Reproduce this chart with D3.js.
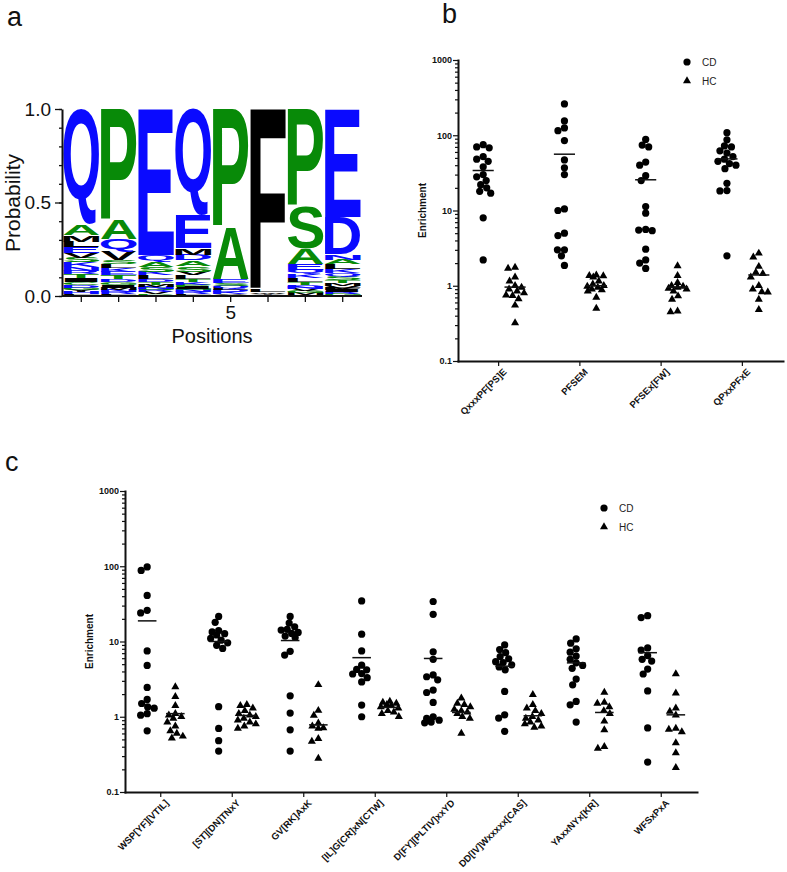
<!DOCTYPE html>
<html><head><meta charset="utf-8">
<script src="https://cdn.jsdelivr.net/npm/d3@7"></script>
<style>body{margin:0;background:#fff}svg{display:block}</style>
</head><body>
<svg id="chart" width="787" height="872"></svg>
<script>
// ================= DATA =================
// Panel a : sequence logo (letter, probability) per position
const logoPositions = [1, 2, 3, 4, 5, 6, 7, 8];
const logoTickLabels = ["", "", "", "", "5", "", "", ""];
const logoYTicks = [0, 0.5, 1.0];
const logoYTickLabels = ["0.0", "0.5", "1.0"];
const pos1 = [["Q",.62],["A",.055],["M",.035],["E",.03],["L",.03],["K",.025],["S",.025],["V",.025],["I",.02],["T",.02],["R",.02],["N",.02],["G",.015],["D",.015],["C",.015],["H",.01],["Y",.01],["W",.005],["F",.005]];
const pos2 = [["P",.595],["A",.10],["Q",.07],["V",.045],["T",.02],["E",.02],["K",.02],["L",.02],["S",.02],["M",.015],["I",.015],["G",.015],["D",.015],["R",.01],["N",.01],["H",.005],["F",.005]];
const pos3 = [["E",.78],["Q",.035],["A",.03],["S",.025],["L",.02],["K",.02],["T",.015],["D",.015],["V",.01],["R",.01],["G",.01],["N",.01],["M",.01],["I",.005],["P",.005]];
const pos4 = [["Q",.57],["E",.175],["M",.035],["S",.03],["A",.03],["D",.03],["L",.02],["V",.02],["K",.015],["T",.015],["R",.01],["N",.01],["G",.01],["I",.01],["P",.01],["H",.005],["F",.005]];
const pos5 = [["P",.63],["A",.28],["E",.02],["Q",.015],["S",.015],["K",.01],["D",.01],["L",.01],["T",.005],["V",.005]];
const pos6 = [["F",.97],["L",.01],["W",.008],["Y",.007],["V",.005]];
const pos7 = [["P",.52],["S",.225],["A",.085],["E",.03],["Q",.025],["L",.02],["K",.02],["D",.015],["T",.015],["M",.01],["G",.01],["V",.01],["N",.01],["R",.005]];
const pos8 = [["E",.575],["D",.2],["N",.03],["L",.025],["A",.025],["S",.02],["Q",.02],["K",.02],["V",.015],["M",.015],["T",.015],["G",.01],["R",.01],["I",.01],["F",.01]];
const logoColumns = [pos1, pos2, pos3, pos4, pos5, pos6, pos7, pos8];
const blueLetters = "QEDNKRH";
const greenLetters = "PASTGC";

// Panels b & c : log axis
const logTickValues = [0.1, 1, 10, 100, 1000];
const logTickLabels = ["0.1", "1", "10", "100", "1000"];
const seriesNames = ["CD", "HC"];

// Panel b
const motifsB = ["QxxxPF[PS]E", "PFSEM", "PFSEx[FW]", "QPxxPFxE"];
const cdB1 = [75,70,68,52,48,45,38,30,28,25,22,20,18,17,8,2.2];
const cdB2 = [261,155,125,115,85,47,37,30,10.5,10,5,4.65,3,3,2.5,1.86];
const cdB3 = [88,74,70,44,40,29,25,11.3,9.2,5.6,5.5,5.4,3.06,2.2,2,1.7];
const cdB4 = [108,87,72,70,62,58,52,48,45,42,40,36,23,18.4,18.2,2.5];
const hcB1 = [1.75,1.7,1.3,1.15,1.0,0.95,0.9,0.85,0.8,0.75,0.74,0.67,0.55,0.32];
const hcB2 = [1.38,1.36,1.35,1.3,1.15,1.05,1.0,0.98,0.95,0.9,0.88,0.85,0.7,0.5];
const hcB3 = [1.84,1.36,1.1,1.0,0.98,0.95,0.92,0.9,0.85,0.73,0.66,0.46,0.45];
const hcB4 = [2.7,2.4,1.8,1.5,1.45,1.3,1.0,0.9,0.83,0.82,0.66,0.48];
const meanCdB = [34, 56, 25.6, 48.5];
const meanHcB = [0.96, 1.0, 0.96, 1.39];

// Panel c
const motifsC = ["WSP[YF][VTIL]", "[ST][DN]TNxY", "GV[RK]AxK", "[IL]G[CR]xN[CTW]", "D[FY][PLTIV]xxYD", "DD[IV]Wxxxxx[CAS]", "YAxxNYx[KR]", "WFSxPxA"];
const cdC1 = [98,88,41,26,24,7.5,4.8,2.45,1.7,1.5,1.35,1.3,1.1,1.05,0.65];
const cdC2 = [21.5,18,14,13.4,12.7,12.2,11,10.4,9.6,8.9,8.1,1.36,0.7,0.48,0.35];
const cdC3 = [21.5,17.6,15.7,14.5,14.2,13.2,12.8,11.8,11.3,7.4,6.6,1.9,1.12,0.67,0.35];
const cdC4 = [34.6,12.5,7.5,4.85,4.25,4.2,3.75,3.7,3.3,2.9,1.43,1.0];
const cdC5 = [34,23,7.3,5.8,3.6,3.4,3.1,2.26,2.1,1.55,1.0,0.95,0.9,0.85,0.83];
const cdC6 = [9,7.8,7.1,6.3,5.9,5.4,5.25,4.9,4.6,4.2,2.17,1.06,0.96,0.64];
const cdC7 = [10.8,9.5,8,7.2,6.4,5.8,5.2,4.8,4.4,3.17,2.66,1.6,1.44,0.85];
const cdC8 = [22,20.8,8.2,7.7,6.5,5.8,5.5,4.3,3.7,2.2,0.71,0.25];
const hcC1 = [2.5,1.85,1.4,1.1,1.05,1.0,0.95,0.85,0.75,0.65,0.6,0.55,0.52];
const hcC2 = [1.45,1.4,1.3,1.2,1.1,1.05,1.0,0.95,0.9,0.85,0.8,0.75,0.7];
const hcC3 = [2.66,1.21,1.04,0.82,0.75,0.71,0.7,0.51,0.47,0.28];
const hcC4 = [1.6,1.55,1.5,1.45,1.4,1.35,1.3,1.2,1.15,1.1,1.0];
const hcC5 = [1.77,1.5,1.45,1.35,1.25,1.2,1.15,1.1,1.0,0.95,0.6];
const hcC6 = [1.96,1.45,1.3,1.2,1.1,1.0,0.95,0.9,0.85,0.8,0.75,0.72];
const hcC7 = [2.1,1.55,1.5,1.35,1.2,1.1,0.87,0.67,0.4,0.38];
const hcC8 = [3.7,2.06,1.3,1.18,1.05,0.7,0.68,0.63,0.45,0.33,0.21];
const meanCdC = [18.8, 10, 10.3, 6.1, 5.95, 4.7, 5.2, 7.1];
const meanHcC = [1.1, 1.04, 0.78, 1.33, 1.14, 1.03, 1.14, 1.06];

// ================= DRAWING =================
const FONT = "'Liberation Sans', Arial, Helvetica, sans-serif";
const svg = d3.select("#chart").style("font-family", FONT);

// panel letters
[["a", 7, 26], ["b", 442, 23], ["c", 5, 471]].forEach(([t, x, y]) =>
  svg.append("text").attr("x", x).attr("y", y).attr("font-size", 27).attr("fill", "#111").text(t));

// ---------- Panel a ----------
(function () {
  const g = svg.append("g");
  const y = d3.scaleLinear().domain([0, 1]).range([296, 109]);
  const x = d3.scaleBand().domain(logoPositions).range([63, 361]).paddingInner(0.04).paddingOuter(0.01);
  const colorOf = ch => blueLetters.includes(ch) ? "#0a0aff" : greenLetters.includes(ch) ? "#088a08" : "#000";
  const LOGOFONT = "bold 100px 'Liberation Sans', Arial, sans-serif";
  const ctx = document.createElement("canvas").getContext("2d");
  ctx.font = LOGOFONT;
  const cache = {};
  const ink = ch => cache[ch] || (cache[ch] = (() => {
    const m = ctx.measureText(ch);
    return { l: m.actualBoundingBoxLeft, r: m.actualBoundingBoxRight, a: m.actualBoundingBoxAscent, d: m.actualBoundingBoxDescent };
  })());
  logoColumns.forEach((col, i) => {
    const sorted = col.slice().sort((p, q) => p[1] - q[1]);
    let cum = 0;
    const bx = x(logoPositions[i]), bw = x.bandwidth();
    sorted.forEach(([ch, p]) => {
      const yb = y(cum), yt = y(cum + p);
      cum += p;
      const h = yb - yt;
      if (h <= 0.05) return;
      const m = ink(ch);
      const sx = bw / (m.l + m.r), sy = h / (m.a + m.d);
      g.append("text")
        .attr("font-family", "'Liberation Sans', Arial, sans-serif")
        .attr("font-weight", "bold").attr("font-size", 100)
        .attr("fill", colorOf(ch))
        .attr("transform", `translate(${bx},${yt}) scale(${sx},${sy}) translate(${m.l},${m.a})`)
        .text(ch);
    });
  });
  // y axis
  const yAxis = d3.axisLeft(y).tickValues(logoYTicks).tickFormat((d, i) => logoYTickLabels[i]).tickSize(7).tickSizeOuter(0).tickPadding(4);
  const ya = g.append("g").attr("transform", "translate(62,0)").call(yAxis);
  const minorA = d3.range(0, 1.0001, 0.1);
  g.append("g").attr("transform", "translate(62,0)").call(d3.axisLeft(y).tickValues(minorA).tickFormat("").tickSize(3).tickSizeOuter(0))
    .call(s => s.select(".domain").remove());
  const xa = g.append("g").attr("transform", "translate(0,296)")
    .call(d3.axisBottom(x).tickFormat((d, i) => logoTickLabels[i]).tickSize(6).tickSizeOuter(0).tickPadding(4));
  xa.select(".domain").attr("d", "M62,0H362");
  [ya, xa].forEach(a => {
    a.select(".domain").attr("stroke-width", 2).attr("stroke", "#111");
    a.selectAll("text").attr("font-size", 19).attr("font-family", FONT).attr("fill", "#111");
  });
  g.selectAll(".tick line").attr("stroke", "#111").attr("stroke-width", 1.3);
  g.append("text").attr("transform", "translate(20,203) rotate(-90)").attr("text-anchor", "middle")
    .attr("font-size", 21).attr("fill", "#111").text("Probability");
  g.append("text").attr("x", 212).attr("y", 343).attr("text-anchor", "middle")
    .attr("font-size", 20).attr("fill", "#111").text("Positions");
})();

// ---------- beeswarm helper ----------
function swarm(vals, y, minD, maxOff) {
  const pts = vals.map(v => ({ v, py: y(v), dx: 0 }));
  const placed = [];
  const cands = [0];
  for (let s = 0.5; s <= maxOff; s += 0.5) cands.push(-s, s);
  pts.slice().sort((a, b) => a.py - b.py).forEach(p => {
    let best = 0, bestScore = -Infinity;
    for (const c of cands) {
      let md = Infinity;
      for (const q of placed) md = Math.min(md, Math.hypot(c - q.dx, p.py - q.py));
      if (md >= minD) { best = c; bestScore = Infinity; break; }
      if (md > bestScore + 0.3) { bestScore = md; best = c; }
    }
    p.dx = best;
    placed.push(p);
  });
  return pts;
}

// ---------- log panels ----------
function logPanel(cfg) {
  const g = svg.append("g");
  const y = d3.scaleLog().domain([0.1, 1000]).range([cfg.yBottom, cfg.yTop]);
  const x = d3.scaleBand().domain(cfg.cats).range([cfg.xLeft, cfg.xRight]);
  const bw = x.bandwidth();
  // minor ticks
  const minor = [];
  logTickValues.slice(0, -1).forEach(d => { for (let k = 2; k < 10; k++) minor.push(d * k); });
  g.append("g").attr("transform", `translate(${cfg.xLeft},0)`)
    .call(d3.axisLeft(y).tickValues(minor).tickFormat("").tickSize(3).tickSizeOuter(0))
    .call(s => s.select(".domain").remove());
  const ya = g.append("g").attr("transform", `translate(${cfg.xLeft},0)`)
    .call(d3.axisLeft(y).tickValues(logTickValues).tickFormat((d, i) => logTickLabels[i]).tickSize(5).tickSizeOuter(0).tickPadding(1));
  const xa = g.append("g").attr("transform", `translate(0,${cfg.yBottom})`)
    .call(d3.axisBottom(x).tickSize(5).tickSizeOuter(0));
  xa.selectAll(".tick text").attr("text-anchor", "end")
    .attr("transform", "translate(2,5) rotate(-45)").attr("dy", "0.35em").attr("y", 6).attr("x", 0)
    .attr("font-size", 9.5).attr("font-weight", "bold");
  ya.selectAll(".tick text").attr("font-size", 9).attr("font-weight", "bold");
  [ya, xa].forEach(a => {
    a.select(".domain").attr("stroke-width", 2).attr("stroke", "#111").attr("stroke-linecap", "square");
    a.selectAll("text").attr("font-family", FONT).attr("fill", "#111");
  });
  g.selectAll(".tick line").attr("stroke", "#111").attr("stroke-width", 1.2);
  // y label
  g.append("text").attr("transform", `translate(${cfg.xLeft - 32},${(cfg.yTop + cfg.yBottom) / 2}) rotate(-90)`)
    .attr("text-anchor", "middle").attr("font-size", 10).attr("font-weight", "bold").attr("fill", "#111").text("Enrichment");

  const off = bw * 0.19, half = bw * 0.13;
  const circ = d3.symbol().type(d3.symbolCircle).size(41)();
  const tri = d3.symbol().type(d3.symbolTriangle).size(28)();
  const series = [
    { data: cfg.cd, mean: cfg.meanCd, dx: -off, path: circ },
    { data: cfg.hc, mean: cfg.meanHc, dx: off + 1, path: tri }
  ];
  series.forEach(s => {
    s.data.forEach((vals, i) => {
      const cx = x(cfg.cats[i]) + bw / 2 + s.dx;
      swarm(vals, y, 6.6, 9).forEach(p => {
        g.append("path").attr("d", s.path).attr("fill", "#000")
          .attr("transform", `translate(${cx + p.dx},${p.py})`);
      });
      g.append("line").attr("x1", cx - half).attr("x2", cx + half)
        .attr("y1", y(s.mean[i])).attr("y2", y(s.mean[i]))
        .attr("stroke", "#111").attr("stroke-width", 1.5);
    });
  });
  // legend
  const lg = g.append("g").attr("transform", `translate(${cfg.legX},${cfg.legY})`);
  [circ, tri].forEach((pth, i) => {
    lg.append("path").attr("d", pth).attr("fill", "#000").attr("transform", `translate(0,${i * 19})`);
    lg.append("text").attr("x", 15).attr("y", i * 19).attr("dy", "0.36em")
      .attr("font-size", 10).attr("fill", "#222").text(seriesNames[i]);
  });
}

logPanel({
  cats: motifsB, xLeft: 458, xRight: 783, yTop: 60, yBottom: 361,
  cd: [cdB1, cdB2, cdB3, cdB4], hc: [hcB1, hcB2, hcB3, hcB4],
  meanCd: meanCdB, meanHc: meanHcB, legX: 687, legY: 62
});
logPanel({
  cats: motifsC, xLeft: 125, xRight: 697, yTop: 491, yBottom: 792,
  cd: [cdC1, cdC2, cdC3, cdC4, cdC5, cdC6, cdC7, cdC8],
  hc: [hcC1, hcC2, hcC3, hcC4, hcC5, hcC6, hcC7, hcC8],
  meanCd: meanCdC, meanHc: meanHcC, legX: 604, legY: 508
});
</script>
</body></html>
